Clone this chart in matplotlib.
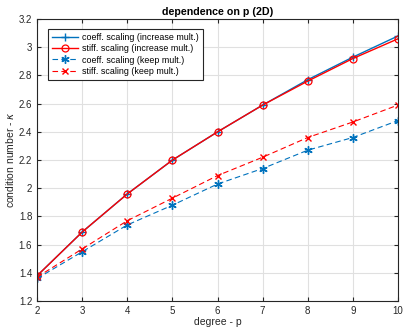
import numpy as np
import matplotlib
matplotlib.use('Agg')
import matplotlib.pyplot as plt

plt.rcParams['font.family'] = ['Liberation Sans', 'DejaVu Sans']

p = [2, 3, 4, 5, 6, 7, 8, 9, 10]
coeff_inc = [1.38, 1.69, 1.96, 2.20, 2.40, 2.59, 2.77, 2.93, 3.08]
stiff_inc = [1.38, 1.69, 1.96, 2.20, 2.40, 2.59, 2.76, 2.92, 3.06]
coeff_keep = [1.36, 1.55, 1.74, 1.88, 2.03, 2.14, 2.27, 2.36, 2.48]
stiff_keep = [1.37, 1.57, 1.77, 1.93, 2.09, 2.22, 2.36, 2.47, 2.59]

blue = (0, 0.447, 0.741)
red = (1, 0, 0)

fig = plt.figure(figsize=(4.04, 3.29), dpi=100)
ax = fig.add_axes([0.092, 0.085, 0.893, 0.857])

ax.plot(p, coeff_inc, '-', color=blue, marker='+', ms=6, mew=1, lw=1, label='coeff. scaling (increase mult.)')
ax.plot(p, stiff_inc, '-', color=red, marker='o', ms=5, mfc='none', mew=0.9, lw=1, label='stiff. scaling (increase mult.)')
ax.plot(p, coeff_keep, '--', color=blue, marker=(6, 2, 0), ms=6, mew=1, lw=0.8, dashes=(5, 3), label='coeff. scaling (keep mult.)')
ax.plot(p, stiff_keep, '--', color=red, marker='x', ms=5, mew=1, lw=0.8, dashes=(5, 3), label='stiff. scaling (keep mult.)')

ax.set_xlim(2, 10)
ax.set_ylim(1.2, 3.2)
ax.set_xticks(range(2, 11))
yt = np.arange(1.2, 3.21, 0.2)
ax.set_yticks(yt)
ax.set_yticklabels(['%g' % round(v, 1) for v in yt])
ax.grid(True, color='#e0e0e0', lw=0.8)
ax.set_axisbelow(True)
ax.tick_params(direction='in', labelsize=7, colors='#262626', length=3, top=True, right=True)
for s in ax.spines.values():
    s.set_color('#262626')
    s.set_linewidth(0.8)

ax.set_xlabel('degree - p', fontsize=7.5, color='#262626', labelpad=1)
ax.set_ylabel('condition number - $\\kappa$', fontsize=7.5, color='#262626', labelpad=2)
ax.set_title('dependence on p (2D)', fontsize=7.7, fontweight='bold', pad=3)

leg = ax.legend(loc='upper left', bbox_to_anchor=(0.017, 0.98), fontsize=6.4, fancybox=False,
                framealpha=1, edgecolor='#262626', handlelength=3.0, borderpad=0.45,
                labelspacing=0.25, handletextpad=0.4)
leg.get_frame().set_linewidth(0.8)

plt.savefig('out.png', dpi=100)
